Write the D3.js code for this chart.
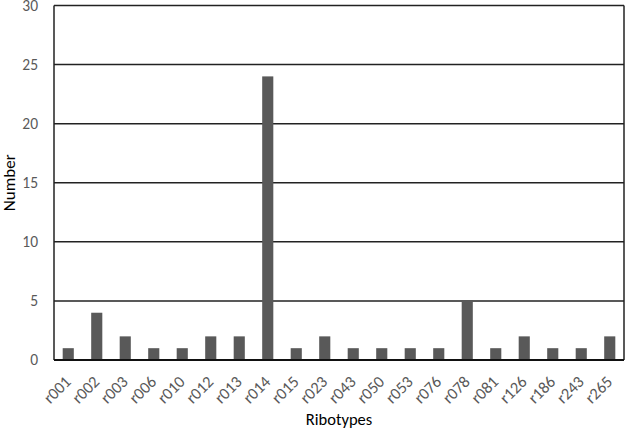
<!DOCTYPE html>
<html><head><meta charset="utf-8">
<script src="https://cdn.jsdelivr.net/npm/d3@7"></script>
<style>body{margin:0;background:#fff}svg{display:block}</style>
</head><body>
<script>
const categories = ["r001","r002","r003","r006","r010","r012","r013","r014","r015","r023","r043","r050","r053","r076","r078","r081","r126","r186","r243","r265"];
const values = [1,4,2,1,1,2,2,24,1,2,1,1,1,1,5,1,2,1,1,2];
const yTicks = [0,5,10,15,20,25,30];

const W = 625, H = 432;
const m = {left: 54, right: 1, top: 5.5, bottom: 72};
const svg = d3.select("body").append("svg").attr("width", W).attr("height", H);
const font = "Carlito, Calibri, Lato, sans-serif";

const x = d3.scaleBand().domain(categories).range([m.left, W - m.right]).paddingInner(0.61).paddingOuter(0.305);
const y = d3.scaleLinear().domain([0, 30]).range([H - m.bottom, m.top]);

// gridlines
svg.append("g").selectAll("line").data(yTicks).join("line")
  .attr("x1", m.left).attr("x2", W - m.right)
  .attr("y1", d => y(d)).attr("y2", d => y(d))
  .attr("stroke", "#222").attr("stroke-width", 1.5);

// bars
svg.append("g").selectAll("rect").data(values).join("rect")
  .attr("x", (d, i) => x(categories[i]))
  .attr("width", x.bandwidth())
  .attr("y", d => y(d))
  .attr("height", d => y(0) - y(d))
  .attr("fill", "#595959");

// borders
svg.append("line").attr("x1", m.left).attr("x2", m.left).attr("y1", y(0)).attr("y2", y(30)).attr("stroke", "#222").attr("stroke-width", 1.5);
svg.append("line").attr("x1", W - m.right).attr("x2", W - m.right).attr("y1", y(0)).attr("y2", y(30)).attr("stroke", "#222").attr("stroke-width", 1.5);
svg.append("line").attr("x1", m.left).attr("x2", W - m.right).attr("y1", y(0)).attr("y2", y(0)).attr("stroke", "#111").attr("stroke-width", 2);

// y axis
const ya = svg.append("g").attr("transform", `translate(${m.left},0)`)
  .call(d3.axisLeft(y).tickValues(yTicks).tickSize(0).tickPadding(16));
ya.select(".domain").remove();
ya.selectAll("text").attr("font-family", font).attr("font-size", 15.5).attr("fill", "#595959");

// x axis
const xa = svg.append("g").attr("transform", `translate(0,${y(0)})`)
  .call(d3.axisBottom(x).tickSize(0));
xa.select(".domain").remove();
xa.selectAll("text")
  .attr("font-family", font).attr("font-size", 16.5).attr("fill", "#595959")
  .attr("text-anchor", "end")
  .attr("dy", null).attr("y", 0)
  .attr("transform", "translate(1,20) rotate(-45)")
  .attr("dominant-baseline", "middle");

// axis titles
svg.append("text").attr("x", (m.left + W - m.right) / 2).attr("y", 425)
  .attr("text-anchor", "middle").attr("font-family", font).attr("font-size", 16.5).attr("fill", "#000")
  .text("Ribotypes");
svg.append("text").attr("transform", `translate(15,${(y(0) + y(30)) / 2}) rotate(-90)`)
  .attr("text-anchor", "middle").attr("font-family", font).attr("font-size", 17).attr("fill", "#000")
  .text("Number");
</script>
</body></html>
